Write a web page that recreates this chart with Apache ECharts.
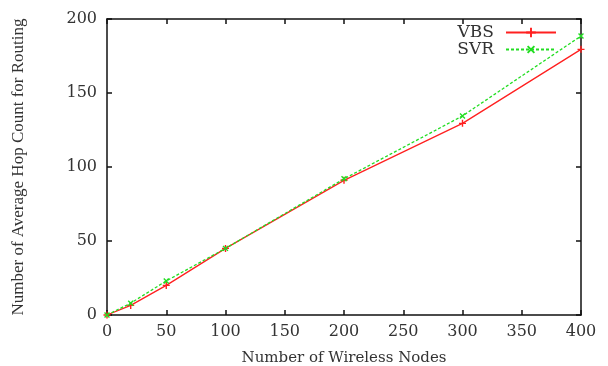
<!DOCTYPE html>
<html>
<head>
<meta charset="utf-8">
<script src="https://cdn.jsdelivr.net/npm/echarts@6/dist/echarts.min.js"></script>
<style>
  html, body { margin: 0; padding: 0; background: #fff; }
  #chart { width: 608px; height: 366px; }
</style>
</head>
<body>
<div id="chart"></div>
<script>
// data
var nodes = [0, 20, 50, 100, 200, 300, 400];
var vbs = [0, 6.5, 20, 45, 91, 129.5, 179.5];
var svr = [0, 8, 23, 45, 92, 134.5, 188.5];

function pairs(xs, ys) {
    var out = [];
    for (var i = 0; i < xs.length; i++) out.push([xs[i], ys[i]]);
    return out;
}

var plus = 'path://M4,0h2v10h-2zM0,4h10v2h-10z';
var textColor = '#333';

var myChart = echarts.init(document.getElementById('chart'));

var axisBase = {
    axisLine: { show: true, onZero: false, lineStyle: { color: '#111', width: 1.5 } },
    axisTick: { show: true, inside: true, length: 5, lineStyle: { color: '#111', width: 1.5 } },
    splitLine: { show: false }
};

var option = {
    animation: false,
    backgroundColor: '#fff',
    grid: { left: 107, right: 27, top: 19, bottom: 51, outerBoundsMode: 'none', containLabel: false },
    legend: {
        right: 46,
        top: 19,
        orient: 'vertical',
        align: 'right',
        itemWidth: 50,
        itemHeight: 12,
        itemGap: 0,
        textStyle: { fontFamily: 'DejaVu Serif', fontSize: 17, lineHeight: 13, color: textColor, padding: [0, 7, 0, 0] },
        data: ['VBS', 'SVR']
    },
    xAxis: [
        Object.assign({
            type: 'value', min: 0, max: 400, interval: 50,
            name: 'Number of Wireless Nodes',
            nameLocation: 'middle',
            nameGap: 36,
            nameTextStyle: { fontFamily: 'DejaVu Serif', fontSize: 15, color: textColor },
            axisLabel: { margin: 9, fontFamily: 'DejaVu Serif', fontSize: 16, color: textColor }
        }, axisBase),
        Object.assign({
            type: 'value', min: 0, max: 400, interval: 50, position: 'top',
            axisLabel: { show: false }
        }, axisBase)
    ],
    yAxis: [
        Object.assign({
            type: 'value', min: 0, max: 200, interval: 50,
            name: 'Number of Average Hop Count for Routing',
            nameLocation: 'middle',
            nameGap: 80,
            nameTextStyle: { fontFamily: 'Liberation Serif', fontSize: 17, color: textColor },
            axisLabel: { margin: 10, fontFamily: 'DejaVu Serif', fontSize: 16, color: textColor }
        }, axisBase),
        Object.assign({
            type: 'value', min: 0, max: 200, interval: 50, position: 'right',
            axisLabel: { show: false }
        }, axisBase)
    ],
    series: [
        {
            name: 'VBS',
            type: 'line',
            data: pairs(nodes, vbs),
            symbol: plus,
            symbolSize: 7,
            showAllSymbol: true,
            lineStyle: { color: '#ff2020', width: 1.3 },
            itemStyle: { color: '#ff2020' }
        },
        {
            name: 'SVR',
            type: 'line',
            data: pairs(nodes, svr),
            symbol: plus,
            symbolSize: 7,
            symbolRotate: 45,
            showAllSymbol: true,
            lineStyle: { color: '#22dd22', width: 1.3, type: [3, 2] },
            itemStyle: { color: '#22dd22' }
        }
    ]
};

myChart.setOption(option);
window.addEventListener('resize', function () {
    myChart.resize();
});
</script>
</body>
</html>
